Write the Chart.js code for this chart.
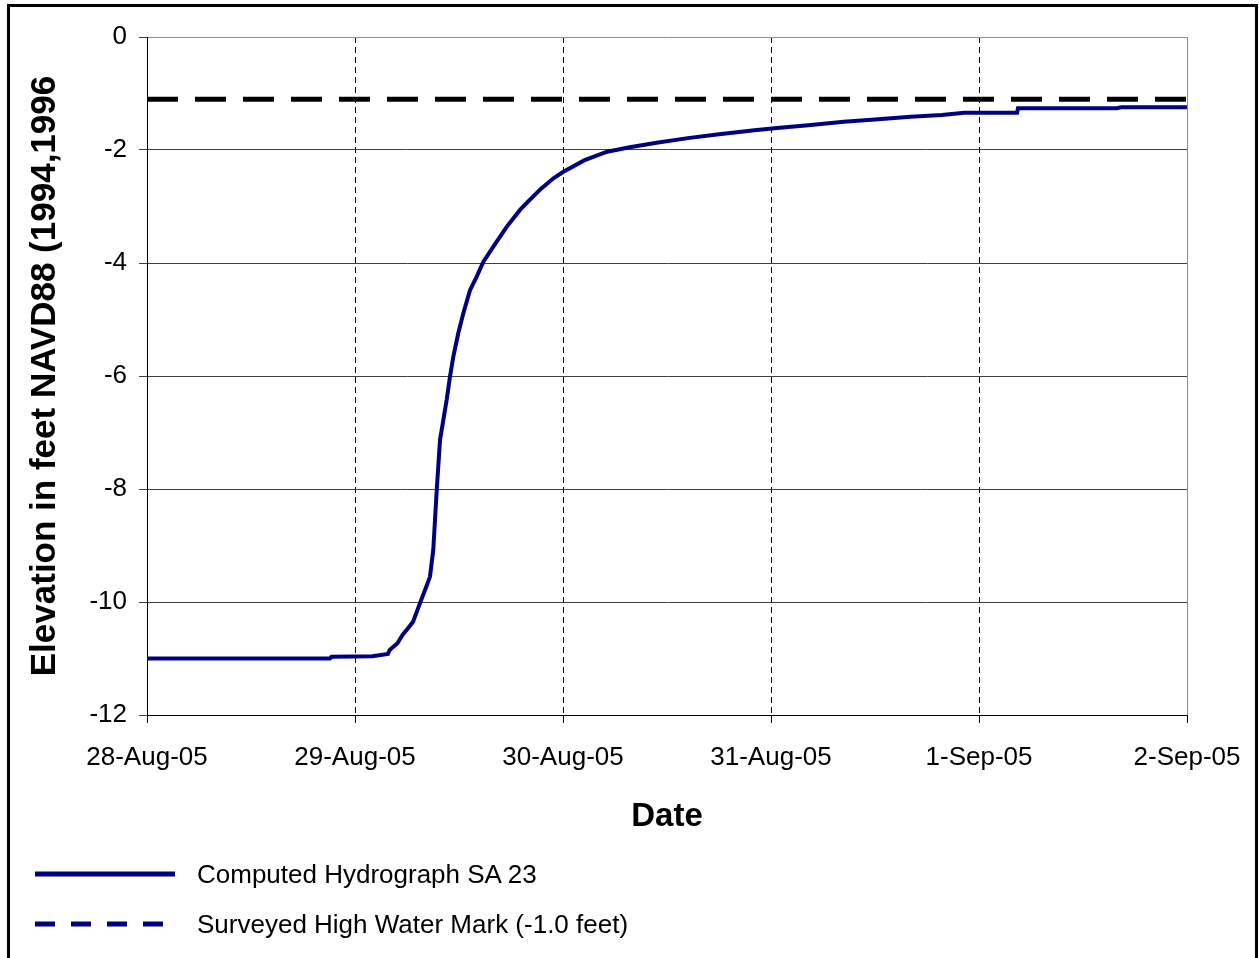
<!DOCTYPE html>
<html>
<head>
<meta charset="utf-8">
<script src="https://cdn.jsdelivr.net/npm/chart.js@4"></script>
<style>
  html, body { margin: 0; padding: 0; background: #fff; overflow: hidden; }
  #wrap { position: relative; width: 1259px; height: 958px; }
  #c { position: absolute; left: 0; top: 0; }
  #frame { position: absolute; left: 7px; top: 4px; width: 1251px; height: 1000px; box-sizing: border-box; border: 3px solid #000; pointer-events: none; }
  #legend { position: absolute; left: 35px; top: 850px; font-family: Arial, "Liberation Sans", sans-serif; font-size: 26px; color: #000; }
  .item { position: absolute; left: 0; height: 30px; white-space: nowrap; }
  .item svg { position: absolute; left: 0; top: 12px; }
  .item span { position: absolute; left: 162px; top: 0; line-height: 30px; }
</style>
</head>
<body>
<div id="wrap">
  <canvas id="c" width="1259" height="958"></canvas>
  <div id="frame"></div>
  <div id="legend"></div>
</div>
<script>
// ---- data ----
const dateLabels = ['28-Aug-05', '29-Aug-05', '30-Aug-05', '31-Aug-05', '1-Sep-05', '2-Sep-05'];
// hours after 28-Aug-05 00:00
const hours = [0, 21.1, 21.3, 26.0, 27.8, 28.0, 28.9, 29.5, 30.1, 30.7, 31.5, 32.3, 32.65, 33.03, 33.23, 33.43, 33.61, 33.81, 34.19, 34.58, 34.96, 35.34, 35.92, 36.5, 37.27, 38.04, 38.8, 39.96, 41.5, 43.04, 44.19, 45.5, 46.9, 48.0, 50.5, 53.1, 55.7, 58.8, 62.4, 66.0, 70.1, 72.7, 76.3, 80.4, 84.0, 88.1, 91.7, 94.3, 100.4, 100.5, 111.9, 112.4, 120];
const elevation = [-11.0, -11.0, -10.97, -10.96, -10.92, -10.85, -10.73, -10.58, -10.47, -10.35, -10.02, -9.70, -9.55, -9.08, -8.55, -8.02, -7.6, -7.13, -6.78, -6.42, -6.01, -5.66, -5.24, -4.89, -4.48, -4.24, -3.98, -3.71, -3.36, -3.06, -2.88, -2.68, -2.50, -2.39, -2.18, -2.03, -1.95, -1.87, -1.79, -1.72, -1.65, -1.61, -1.56, -1.50, -1.46, -1.41, -1.38, -1.34, -1.34, -1.26, -1.26, -1.245, -1.245];
const hwmHours = [0, 120];
const hwmLevel = [-1.1, -1.1];
const seriesNames = ['Computed Hydrograph SA 23', 'Surveyed High Water Mark (-1.0 feet)'];
const yTitle = 'Elevation in feet NAVD88 (1994,1996';
const xTitle = 'Date';

// ---- chart ----
const FONT = 'Arial, "Liberation Sans", sans-serif';
const hydro = hours.map((h, i) => ({ x: h, y: elevation[i] }));
const hwm = hwmHours.map((h, i) => ({ x: h, y: hwmLevel[i] }));

new Chart(document.getElementById('c'), {
  type: 'line',
  data: {
    datasets: [
      { label: seriesNames[0], data: hydro, borderColor: '#000080', borderWidth: 4, pointRadius: 0, tension: 0, fill: false },
      { label: seriesNames[1], data: hwm, borderColor: '#000000', borderWidth: 5, borderDash: [31, 17], pointRadius: 0, tension: 0, fill: false }
    ]
  },
  options: {
    responsive: false,
    animation: false,
    events: [],
    layout: { padding: { left: 10, top: 37, right: 72, bottom: 100 } },
    plugins: { legend: { display: false }, tooltip: { enabled: false } },
    scales: {
      x: {
        type: 'linear', min: 0, max: 120,
        afterFit: (s) => { s.height = 958 - 715 - 100; s.paddingRight = 60; s.paddingLeft = 60; },
        ticks: {
          stepSize: 24, autoSkip: false, maxRotation: 0, padding: 19,
          color: '#000', font: { family: FONT, size: 26 },
          callback: (v) => dateLabels[Math.round(v / 24)]
        },
        grid: {
          color: (ctx) => (ctx.tick && ctx.tick.value === 120 ? '#8c8c8c' : '#000'),
          lineWidth: 1, tickLength: 8, tickColor: '#000', drawOnChartArea: true
        },
        border: {
          display: true, color: '#000', width: 1,
          dash: (ctx) => (ctx.tick && (ctx.tick.value === 0 || ctx.tick.value === 120) ? [] : [6, 4])
        },
        title: { display: true, text: xTitle, color: '#000', font: { family: FONT, size: 33, weight: 'bold' }, padding: { top: 0, bottom: 21 } }
      },
      y: {
        type: 'linear', min: -12, max: 0,
        afterFit: (s) => { s.width = 137; },
        ticks: { stepSize: 2, padding: 12, color: '#000', font: { family: FONT, size: 26 } },
        grid: {
          color: (ctx) => (ctx.tick && ctx.tick.value === 0 ? '#8c8c8c' : '#404040'),
          lineWidth: 1, tickLength: 8, tickColor: '#404040'
        },
        border: { display: true, color: '#000', width: 1 },
        title: { display: true, text: yTitle, color: '#000', font: { family: FONT, size: 35, weight: 'bold' }, padding: { top: 14, bottom: 0 } }
      }
    }
  }
});

// ---- legend (HTML) ----
const legend = document.getElementById('legend');
const styles = [
  { color: '#000080', dash: '' , top: 9 },
  { color: '#000080', dash: '20 16', top: 59 }
];
seriesNames.forEach((name, i) => {
  const st = styles[i];
  const div = document.createElement('div');
  div.className = 'item';
  div.style.top = st.top + 'px';
  div.innerHTML = '<svg width="140" height="6"><line x1="0" y1="3" x2="140" y2="3" stroke="' + st.color +
    '" stroke-width="5"' + (st.dash ? ' stroke-dasharray="' + st.dash + '"' : '') + '/></svg>';
  const sp = document.createElement('span');
  sp.textContent = name;
  div.appendChild(sp);
  legend.appendChild(div);
});
</script>
</body>
</html>
